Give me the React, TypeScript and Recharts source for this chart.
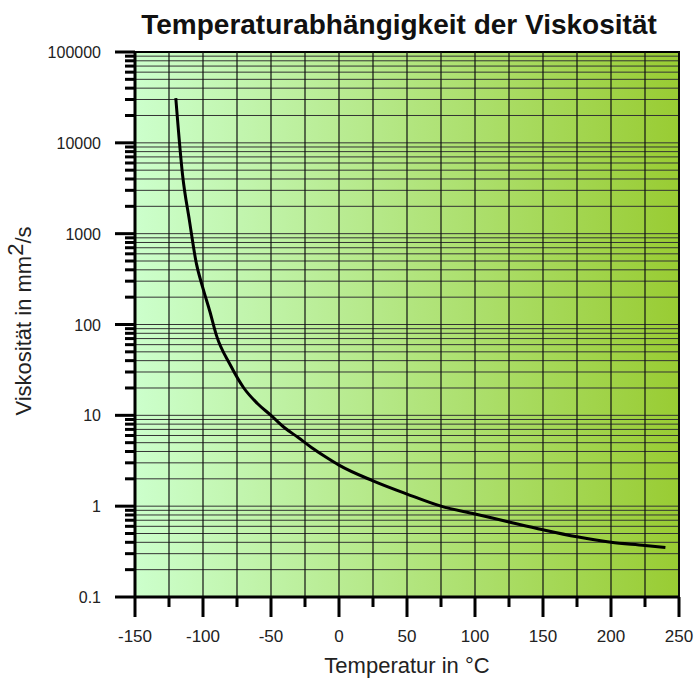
import { LineChart, Line, XAxis, YAxis, CartesianGrid, ReferenceArea, ReferenceLine, Label } from 'recharts'

const temps = [-120, -115, -110, -105, -100, -95, -90, -80, -70, -60, -50, -40, -30, -20, -10, 0, 25, 50, 75, 100, 125, 150, 175, 200, 225, 240]
const viscosity = [31000, 4400, 1400, 480, 250, 140, 75, 36, 20, 13.5, 10, 7.3, 5.7, 4.4, 3.5, 2.83, 1.9, 1.36, 1.0, 0.82, 0.67, 0.55, 0.46, 0.4, 0.37, 0.35]

const xTicks = [-150, -125, -100, -75, -50, -25, 0, 25, 50, 75, 100, 125, 150, 175, 200, 225, 250]
const decades = [0.1, 1, 10, 100, 1000, 10000]
const steps = [1, 2, 3, 4, 5, 6, 7, 8, 9]
const yTicks = [...decades.flatMap(d => steps.map(s => d * s)), 100000]

const data = temps.map((t, i) => ({ t, v: viscosity[i] }))
const font = "'Liberation Sans', Arial, sans-serif"

const isMajor = (v: number) => Math.abs(Math.log10(v) - Math.round(Math.log10(v))) < 1e-9

const XTick = ({ x, y, payload }: any) => {
  const major = payload.value % 50 === 0
  return (
    <g>
      <line x1={x} y1={y} x2={x} y2={y + (major ? 20 : 10)} stroke="#000" strokeWidth={3} />
      {major && (
        <text x={x} y={y + 45} textAnchor="middle" fontSize={17} fontFamily={font} fill="#222">{payload.value}</text>
      )}
    </g>
  )
}

const YTick = ({ x, y, payload }: any) => {
  const v = payload.value
  const major = isMajor(v)
  return (
    <g>
      <line x1={x - (major ? 20 : 10)} y1={y} x2={x} y2={y} stroke="#000" strokeWidth={3} />
      {major && (
        <text x={x - 34} y={y + 6} textAnchor="end" fontSize={16} fontFamily={font} fill="#222">
          {v < 1 ? v.toFixed(1) : String(Math.round(v))}
        </text>
      )}
    </g>
  )
}

const YLabel = () => (
  <text transform="translate(31,321) rotate(-90)" textAnchor="middle" fontSize={22} fontFamily={font} fill="#222">
    Viskosität in mm<tspan dy={-8}>2</tspan><tspan dy={8}>/s</tspan>
  </text>
)

const XLabel = () => (
  <text x={407} y={673} textAnchor="middle" fontSize={22} fontFamily={font} fill="#222">Temperatur in °C</text>
)

export default function App() {
  return (
    <div style={{ position: 'absolute', left: 0, top: 0, width: 696, height: 678, background: '#fff' }}>
      <div style={{
        position: 'absolute', left: 0, top: 9, width: 798, textAlign: 'center',
        fontFamily: font, fontWeight: 700, fontSize: 28, color: '#111'
      }}>
        Temperaturabhängigkeit der Viskosität
      </div>
      <LineChart width={696} height={678} data={data} margin={{ top: 52, right: 17, bottom: 0, left: 0 }}>
        <defs>
          <linearGradient id="bg" x1="0" y1="0" x2="1" y2="0">
            <stop offset="0%" stopColor="#ccffcc" />
            <stop offset="100%" stopColor="#99cc33" />
          </linearGradient>
        </defs>
        <CartesianGrid fill="url(#bg)" fillOpacity={1} stroke="#333" strokeWidth={1} vertical={false} />
        {xTicks.map(t => (
          <ReferenceLine key={t} x={t} stroke="#111" strokeWidth={1.2} />
        ))}
        <XAxis
          dataKey="t" type="number" domain={[-150, 250]} ticks={xTicks} interval={0}
          height={81} tickSize={0} tickMargin={0} tick={<XTick />}
          axisLine={{ stroke: '#000', strokeWidth: 3 }}
        >
          <Label content={<XLabel />} />
        </XAxis>
        <YAxis
          dataKey="v" scale="log" domain={[0.1, 100000]} ticks={yTicks} interval={0}
          allowDataOverflow width={135} tickSize={0} tickMargin={0} tick={<YTick />}
          axisLine={{ stroke: '#000', strokeWidth: 3 }}
        >
          <Label content={<YLabel />} />
        </YAxis>
        <ReferenceArea x1={-150} x2={250} y1={0.1} y2={100000} fill="none" stroke="#000" strokeWidth={2} />
        <Line dataKey="v" type="monotone" stroke="#000" strokeWidth={3} dot={false} isAnimationActive={false} />
      </LineChart>
    </div>
  )
}
